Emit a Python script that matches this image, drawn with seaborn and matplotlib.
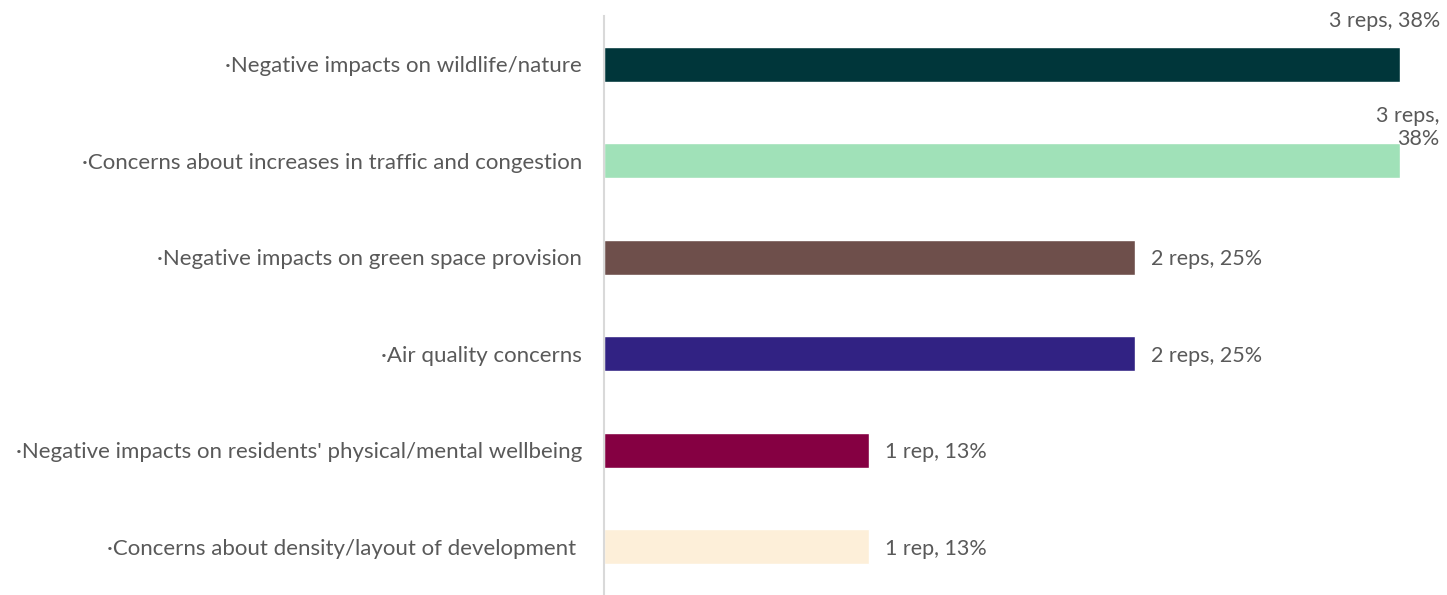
import matplotlib
matplotlib.use("Agg")
import matplotlib.pyplot as plt
import seaborn as sns
import pandas as pd

categories = [
    "·Negative impacts on wildlife/nature",
    "·Concerns about increases in traffic and congestion",
    "·Negative impacts on green space provision",
    "·Air quality concerns",
    "·Negative impacts on residents' physical/mental wellbeing",
    "·Concerns about density/layout of development ",
]
reps = [3, 3, 2, 2, 1, 1]
percents = [38, 38, 25, 25, 13, 13]
colors = ["#00363A", "#A0E1B8", "#6E4F4B", "#312283", "#850042", "#FDEFD9"]

sns.set_theme(style="white")
plt.rcParams["font.family"] = ["Lato", "DejaVu Sans"]

df = pd.DataFrame({"category": categories, "reps": reps})

fig = plt.figure(figsize=(14.47, 5.95), dpi=100)
ax = fig.add_axes([604 / 1447, 0, (1400 - 604) / 1447, (595 - 16) / 595])
sns.barplot(data=df, y="category", x="reps", hue="category", palette=colors,
            orient="h", dodge=False, legend=False, width=0.36, saturation=1,
            ax=ax)
ax.set_xlim(0, 3)
ax.set_ylim(5.5, -0.5)
ax.set_xlabel("")
ax.set_ylabel("")
ax.set_xticks([])
for s in ["top", "right", "bottom"]:
    ax.spines[s].set_visible(False)
ax.spines["left"].set_color("#D9D9D9")
ax.spines["left"].set_linewidth(1.5)
ax.tick_params(axis="y", length=0, pad=16, labelsize=16, labelcolor="#595959")
for lbl in ax.get_yticklabels():
    lbl.set_verticalalignment("center_baseline")

txt_kw = dict(color="#595959", fontsize=15.5, clip_on=False)
for i, (r, p) in enumerate(zip(reps, percents)):
    unit = "rep" if r == 1 else "reps"
    if i == 0:
        ax.text(3.15, -0.47, f"{r} {unit}, {p}%", ha="right", va="center_baseline", **txt_kw)
    elif i == 1:
        ax.text(3.15, 0.655, f"{r} {unit},\n{p}%", ha="right", va="center",
                linespacing=1.15, multialignment="right", **txt_kw)
    else:
        ax.text(r + 0.06, i, f"{r} {unit}, {p}%", ha="left", va="center_baseline", **txt_kw)

fig.savefig("out.png", dpi=100)
